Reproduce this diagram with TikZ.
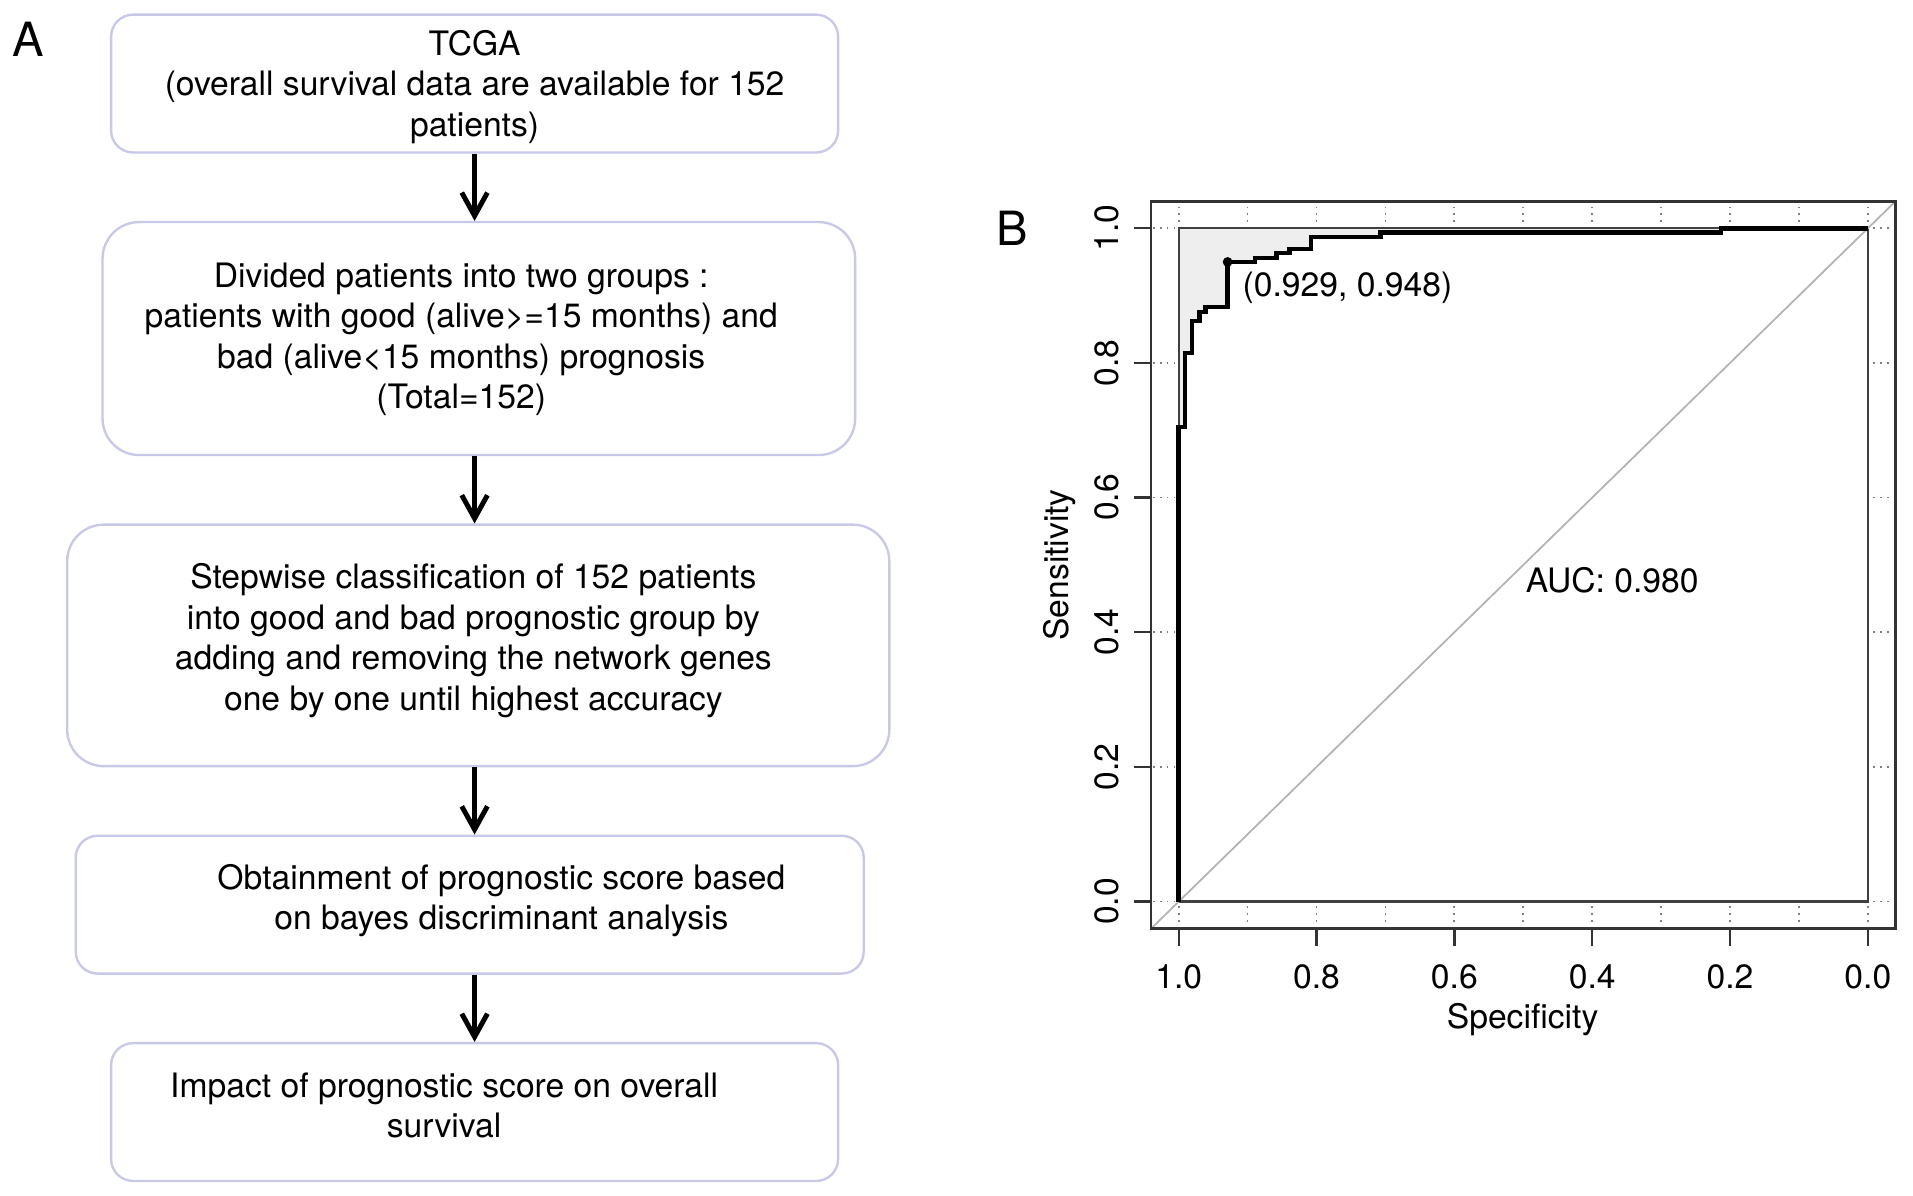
\documentclass[tikz,border=0pt]{standalone}
\usepackage{fontspec}
\setmainfont{TeX Gyre Heros}
\usetikzlibrary{arrows.meta}

\definecolor{boxline}{RGB}{200,200,232}
\definecolor{maxauc}{RGB}{238,238,238}
% staircase of the ROC curve (specificity, sensitivity)
\newcommand\rocpath{(1,0) -- (1,0.705) -- (0.991,0.705) -- (0.991,0.815) -- (0.981,0.815)
  -- (0.981,0.862) -- (0.970,0.862) -- (0.970,0.876) -- (0.961,0.876) -- (0.961,0.883)
  -- (0.929,0.883) -- (0.929,0.950) -- (0.889,0.950) -- (0.889,0.956) -- (0.858,0.956)
  -- (0.858,0.963) -- (0.839,0.963) -- (0.839,0.969) -- (0.808,0.969) -- (0.808,0.987)
  -- (0.707,0.987) -- (0.707,0.994) -- (0.213,0.994) -- (0.213,1) -- (0,1)}

\begin{document}
\begin{tikzpicture}[x=0.02cm, y=-0.02cm,
    every node/.style={font=\fontsize{15.7}{18.9}\selectfont},
    box/.style={draw=boxline, line width=1.1pt, rounded corners=0.36cm},
    bigbox/.style={box, rounded corners=0.6cm},
    txt/.style={align=center, inner sep=0pt},
    arr/.style={-{Straight Barb[length=0.38cm, width=0.42cm]}, line width=2.3pt},
    panel/.style={font=\fontsize{22}{26}\selectfont},
    grid/.style={gray, line width=0.8pt, dash pattern=on 0.8pt off 2.4pt},
    frame/.style={black!80, line width=1.1pt}]
\useasboundingbox (0,0) rectangle (1568,980);

% A: flow chart
\node[panel] (pa) at (23,32) {A};
\node[box, minimum width=11.92cm, minimum height=2.26cm] (tcga) at (389,68.5) {};
\node[bigbox, minimum width=12.34cm, minimum height=3.82cm] (groups) at (392.5,277.5) {};
\node[bigbox, minimum width=13.48cm, minimum height=3.96cm] (stepwise) at (392,529) {};
\node[box, minimum width=12.92cm, minimum height=2.26cm] (score) at (385,741.5) {};
\node[box, minimum width=11.92cm, minimum height=2.26cm] (impact) at (389,911.5) {};

\node[txt] (tcgatxt) at (389,71) {TCGA\\(overall survival data are available for 152\\patients)};
\node[txt] (groupstxt) at (378,278) {Divided patients into two groups :\\patients with good (alive>=15 months) and\\bad (alive<15 months) prognosis\\(Total=152)};
\node[txt] (stepwisetxt) at (388,525) {Stepwise classification of 152 patients\\into good and bad prognostic group by\\adding and removing the network genes\\one by one until highest accuracy};
\node[txt] (scoretxt) at (411,738) {Obtainment of prognostic score based\\on bayes discriminant analysis};
\node[txt] (impacttxt) at (364,906) {Impact of prognostic score on overall\\survival};

\draw[arr] (tcga.south) -- (tcga.south |- groups.north);
\draw[arr] (tcga.south |- groups.south) -- (tcga.south |- stepwise.north);
\draw[arr] (tcga.south |- stepwise.south) -- (tcga.south |- score.north);
\draw[arr] (tcga.south |- score.south) -- (tcga.south |- impact.north);

% B: ROC curve
\node[panel] (pb) at (830,187) {B};
\begin{scope}[shift={(1531,739)}, x={(-11.3cm,0cm)}, y={(0cm,11.04cm)}]
  \foreach \g in {0,0.1,...,1.01} \draw[grid] (\g,-0.04) -- (\g,1.04);
  \foreach \g in {0,0.2,...,1.01} \draw[grid] (-0.04,\g) -- (1.04,\g);
  \fill[maxauc] (0,0) rectangle (1,1);
  \fill[white] \rocpath -- (0,0) -- cycle;
  \draw[black!75, line width=1.1pt] (0,0) rectangle (1,1);
  \draw[gray!60, line width=0.8pt] (1.04,-0.04) -- (-0.04,1.04);
  \draw[black, line width=2.1pt] \rocpath;
  \draw[frame] (-0.04,-0.04) rectangle (1.04,1.04);
  \foreach \t/\lbl [count=\i] in {1/1.0,0.8/0.8,0.6/0.6,0.4/0.4,0.2/0.2,0/0.0} {
    \draw[frame] (\t,-0.04) -- (\t,-0.066);
    \node (xlab\i) at (\t,-0.112) {\lbl};
    \draw[frame] (1.04,\t) -- (1.065,\t);
    \node[rotate=90] (ylab\i) at (1.104,\t) {\lbl};
  }
  \node (xtitle) at (0.501,-0.175) {Specificity};
  \node[rotate=90] (ytitle) at (1.173,0.5) {Sensitivity};
  \node[circle, fill, inner sep=0pt, minimum size=0.16cm] (best) at (0.929,0.950) {};
  \node[txt, anchor=west] (bestlbl) at ([xshift=0.24cm, yshift=-0.42cm]best.center) {(0.929, 0.948)};
  \node[txt, anchor=west] (auc) at (0.497,0.478) {AUC: 0.980};
\end{scope}
\end{tikzpicture}
\end{document}
